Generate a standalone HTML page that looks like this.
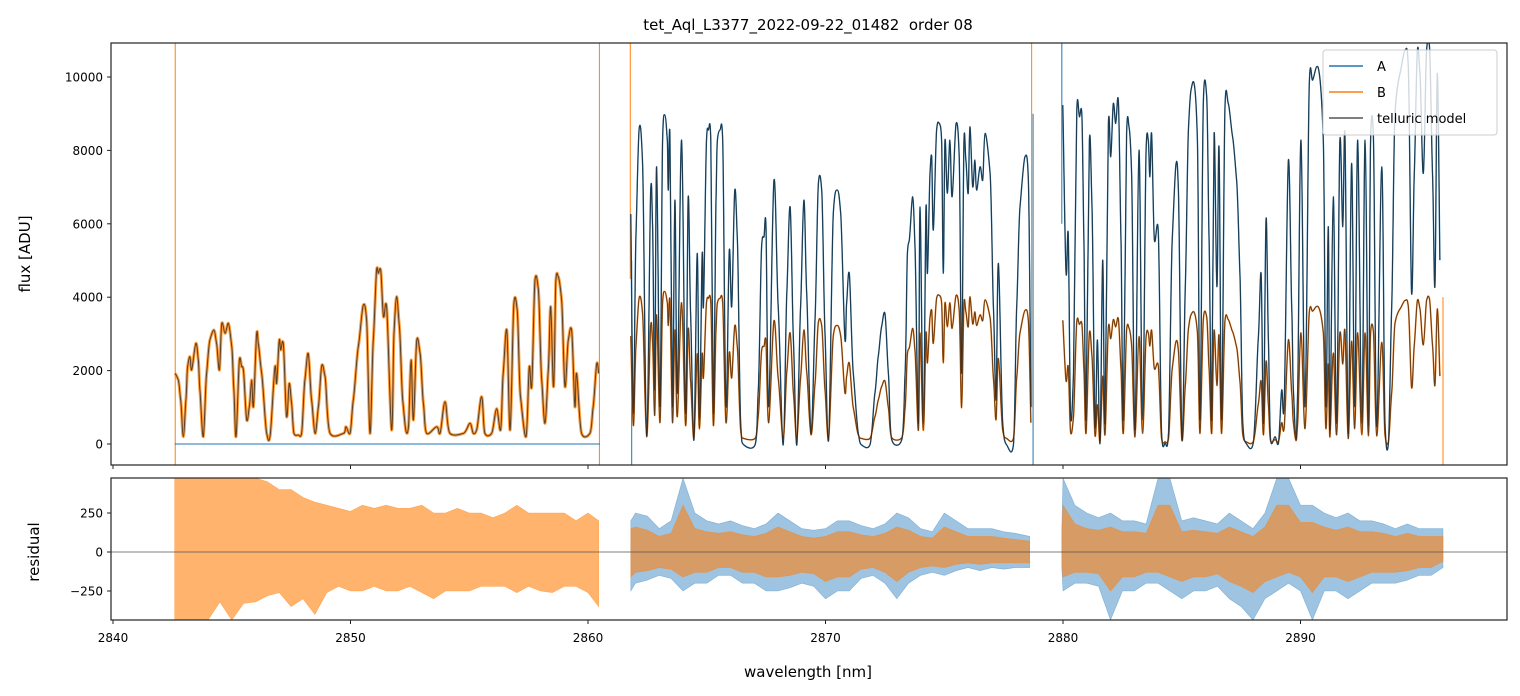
<!DOCTYPE html>
<html><head><meta charset="utf-8"><style>
html,body{margin:0;padding:0;background:#fff;}
svg{display:block;font-family:"DejaVu Sans","Liberation Sans",sans-serif;}
</style></head><body>
<svg id="chart" width="1520" height="696" viewBox="0 0 1520 696" xmlns="http://www.w3.org/2000/svg">
<defs>
<clipPath id="ctop"><rect x="111" y="43" width="1396" height="422"/></clipPath>
<clipPath id="cbot"><rect x="111" y="478" width="1396" height="142"/></clipPath>
</defs>
<rect width="1520" height="696" fill="#fff"/>
<text x="808" y="30" font-size="15" text-anchor="middle" fill="#000" style="white-space:pre">tet_Aql_L3377_2022-09-22_01482  order 08</text>
<g id="gtop" clip-path="url(#ctop)"></g>
<g id="gbot" clip-path="url(#cbot)"></g>
<g id="gaxes"></g>
<text transform="translate(30,254) rotate(-90)" font-size="15" text-anchor="middle">flux [ADU]</text>
<text transform="translate(39,552) rotate(-90)" font-size="15" text-anchor="middle">residual</text>
<text x="808" y="677" font-size="15" text-anchor="middle">wavelength [nm]</text>
<g>
<rect x="1323" y="50" width="174" height="85" rx="3" fill="#fff" fill-opacity="0.8" stroke="#ccc"/>
<line x1="1329" y1="66" x2="1363" y2="66" stroke="#1f77b4" stroke-width="1.5"/>
<text x="1377" y="71" font-size="13">A</text>
<line x1="1329" y1="92" x2="1363" y2="92" stroke="#ff7f0e" stroke-width="1.5"/>
<text x="1377" y="97" font-size="13">B</text>
<line x1="1329" y1="118" x2="1363" y2="118" stroke="#555" stroke-width="1.5"/>
<text x="1377" y="123" font-size="13">telluric model</text>
</g>
</svg>
<script>
// ---- data ----
const seg1Wl=[2842.61,2842.75,2842.85,2842.96,2843.07,2843.14,2843.24,2843.31,2843.49,2843.59,2843.66,2843.80,2843.94,2844.08,2844.25,2844.36,2844.48,2844.58,2844.72,2844.86,2845.00,2845.09,2845.18,2845.32,2845.42,2845.49,2845.63,2845.74,2845.84,2845.91,2846.05,2846.12,2846.26,2846.47,2846.61,2846.82,2846.89,2847.00,2847.06,2847.17,2847.31,2847.42,2847.52,2847.62,2847.80,2847.94,2848.08,2848.22,2848.36,2848.51,2848.65,2848.79,2848.93,2849.14,2849.70,2849.81,2849.98,2850.12,2850.33,2850.54,2850.68,2850.82,2850.96,2851.10,2851.17,2851.27,2851.39,2851.52,2851.73,2851.83,2851.94,2852.06,2852.20,2852.34,2852.44,2852.55,2852.65,2852.79,2852.93,2853.07,2853.21,2853.63,2853.77,2853.98,2854.19,2854.75,2855.03,2855.17,2855.31,2855.52,2855.66,2855.94,2856.15,2856.32,2856.43,2856.58,2856.72,2856.88,2857.02,2857.16,2857.39,2857.53,2857.63,2857.77,2857.91,2858.05,2858.19,2858.33,2858.43,2858.55,2858.65,2858.75,2858.89,2859.03,2859.17,2859.31,2859.45,2859.52,2859.73,2860.08,2860.22,2860.37,2860.45];
const seg1B=[1925,1743,1198,200,1198,2106,2379,2016,2742,2288,1471,200,1925,2833,3106,2742,2016,3287,3015,3287,2651,1471,200,2288,2106,2016,654,1017,1743,1017,3015,2742,1925,290,200,2106,1652,2833,2560,2742,745,1652,1107,290,245,290,1743,2470,1198,290,1017,2143,1834,290,290,472,290,1198,2651,3786,3378,290,2833,4740,4650,4740,3469,3741,381,3015,4014,3196,1198,336,472,2288,654,2833,2470,1107,290,472,290,1152,290,290,563,290,381,1289,290,290,963,381,1925,3106,381,3832,3650,1289,200,2106,1561,4467,4195,1743,563,2016,3741,1561,4467,4558,3923,1561,2833,3106,1017,1925,290,290,1017,2197,1925];
const seg1AWl=[2842.6,2860.5];
const seg1A=[0,0];
const seg2Wl=[2861.80,2861.91,2862.02,2862.16,2862.30,2862.47,2862.64,2862.72,2862.81,2862.89,2863.03,2863.14,2863.24,2863.34,2863.38,2863.45,2863.56,2863.66,2863.76,2863.94,2864.11,2864.22,2864.32,2864.46,2864.60,2864.69,2864.81,2864.86,2864.99,2865.07,2865.17,2865.28,2865.39,2865.45,2865.56,2865.67,2865.81,2865.95,2866.05,2866.18,2866.29,2866.43,2866.57,2867.03,2867.17,2867.31,2867.41,2867.49,2867.61,2867.83,2868.01,2868.22,2868.37,2868.51,2868.65,2868.79,2868.95,2869.09,2869.21,2869.39,2869.56,2869.70,2869.84,2869.98,2870.13,2870.33,2870.50,2870.64,2870.82,2870.89,2871.00,2871.17,2871.38,2871.52,2871.87,2872.08,2872.22,2872.36,2872.50,2872.65,2872.79,2873.21,2873.35,2873.45,2873.53,2873.67,2873.77,2873.91,2873.98,2874.12,2874.23,2874.29,2874.40,2874.47,2874.54,2874.68,2874.79,2874.89,2874.96,2875.03,2875.13,2875.24,2875.33,2875.50,2875.63,2875.73,2875.83,2875.91,2876.01,2876.08,2876.20,2876.29,2876.36,2876.51,2876.62,2876.72,2876.93,2877.07,2877.18,2877.28,2877.46,2877.63,2877.91,2878.05,2878.19,2878.40,2878.54,2878.65];
const seg2A=[6265,835,5720,8625,7626,200,6918,5920,1471,7554,1017,8280,8962,8280,6918,8462,1017,6646,1380,8280,835,6737,3560,109,5194,654,5194,3741,8280,8553,8280,835,6646,8280,8553,8280,1017,5284,3741,6918,5557,563,-27,-27,1471,5375,5647,6010,1017,7191,3741,-27,4104,6464,2833,-27,3741,6646,4104,291,3378,7101,6918,3015,109,6282,6918,6282,2833,3832,4649,1925,291,-27,-27,1380,2379,3196,3560,1925,109,109,1925,5193,5556,6736,5375,563,6464,563,6464,4649,7373,7827,5829,8553,8734,8280,4649,8280,6827,8280,6737,8734,7826,1925,8280,7736,6827,8643,7009,7736,6918,7554,7191,8462,7373,3741,1198,4921,581,-27,-27,3741,6464,7827,7236,1017];
const seg2B=[2940,500,2690,4000,3550,210,3230,2780,780,3520,580,3850,4150,3850,3230,3930,580,3110,740,3850,500,3150,1720,170,2460,410,2460,1800,3850,3970,3850,500,3110,3850,3970,3850,580,2500,1800,3230,2620,370,150,150,780,2540,2660,2820,580,3360,1800,150,1970,3030,1390,150,1800,3110,1970,250,1640,3320,3230,1480,170,2950,3230,2950,1390,1840,2210,990,250,150,150,740,1190,1560,1720,990,170,170,990,2460,2620,3150,2540,370,3030,370,3030,2210,3440,3640,2740,3970,4050,3850,2210,3850,3190,3850,3150,4050,3640,990,3850,3600,3190,4010,3270,3600,3230,3520,3360,3930,3440,1800,660,2330,380,150,150,1800,3030,3640,3380,580];
const seg3Wl=[2879.99,2880.13,2880.22,2880.32,2880.44,2880.58,2880.69,2880.79,2880.88,2880.97,2881.11,2881.22,2881.35,2881.45,2881.56,2881.67,2881.77,2881.91,2882.01,2882.12,2882.22,2882.33,2882.44,2882.54,2882.68,2882.78,2882.89,2883.03,2883.20,2883.35,2883.50,2883.59,2883.66,2883.73,2883.85,2884.01,2884.15,2884.30,2884.44,2884.60,2884.76,2884.86,2885.01,2885.15,2885.28,2885.39,2885.52,2885.66,2885.77,2885.91,2886.05,2886.15,2886.26,2886.36,2886.48,2886.57,2886.68,2886.82,2886.96,2887.14,2887.31,2887.45,2887.57,2887.71,2888.01,2888.22,2888.34,2888.44,2888.55,2888.65,2888.74,2888.93,2889.07,2889.21,2889.31,2889.49,2889.63,2889.70,2889.81,2889.88,2890.02,2890.19,2890.37,2890.51,2890.68,2890.79,2890.96,2891.07,2891.17,2891.24,2891.38,2891.52,2891.66,2891.78,2891.87,2892.01,2892.15,2892.28,2892.41,2892.58,2892.72,2892.86,2892.95,2893.07,2893.21,2893.42,2893.56,2893.70,2893.84,2893.98,2894.19,2894.40,2894.54,2894.68,2894.79,2894.92,2895.03,2895.17,2895.31,2895.43,2895.56,2895.66,2895.76,2895.87];
const seg3A=[9234,4649,5739,744,1924,9097,8916,9006,5557,654,8280,6464,472,2833,18,5012,563,8734,7827,9279,8734,9370,5557,654,8462,8643,7373,381,8008,654,8008,8280,7282,8462,5557,5829,291,18,291,5557,7645,6918,109,4286,8553,9643,9824,8280,654,9370,9460,5557,654,8462,4286,8099,654,9188,9279,8371,7191,4649,563,18,18,2833,4649,563,6146,2833,109,200,18,1471,1017,7736,3741,1471,109,1471,8280,1017,9824,9915,10278,10097,8280,1017,5920,381,6737,563,8280,5920,8462,291,7645,1017,8280,563,8280,472,8280,8371,472,7554,563,18,3741,9006,10097,10733,10279,4104,7373,10733,10097,7373,10733,10824,7373,4286,10097,5012];
const seg3B=[3370,1720,2120,320,740,3330,3260,3290,2050,290,3030,2380,220,1070,60,1850,250,3190,2870,3390,3190,3420,2050,290,3100,3160,2700,190,2930,290,2930,3030,2670,3100,2050,2150,150,60,150,2050,2800,2540,90,1590,3130,3520,3590,3030,290,3420,3460,2050,290,3100,1590,2970,290,3360,3390,3060,2640,1720,250,60,60,1070,1720,250,2260,1070,90,120,60,580,420,2840,1400,580,90,580,3030,420,3590,3620,3750,3680,3030,420,2180,190,2480,250,3030,2180,3100,150,2800,420,3030,250,3030,220,3030,3060,220,2770,250,60,1400,3290,3680,3910,3750,1530,2700,3910,3680,2700,3910,3950,2700,1590,3680,1850];
const spikeSeries=["B","B","B","A","B","A","A","B"];
const spikeWl=[2842.62,2860.48,2861.78,2861.84,2878.68,2878.74,2879.95,2896.0];
const spikeFrom=[-600,-600,4500,-600,1000,-600,6000,-600];
const spikeTo=[11000,11000,11000,5000,11000,9000,11000,4000];
const resB1Wl=[2842.6,2843,2843.5,2844,2844.5,2845,2845.5,2846,2846.5,2847,2847.5,2848,2848.5,2849,2849.5,2850,2850.5,2851,2851.5,2852,2852.5,2853,2853.5,2854,2854.5,2855,2855.5,2856,2856.5,2857,2857.5,2858,2858.5,2859,2859.5,2860,2860.45];
const resB1Hi=[474,474,474,474,474,474,474,474,450,400,400,350,320,300,280,260,300,280,300,280,280,300,250,250,280,250,250,220,250,300,250,250,250,250,200,250,200];
const resB1Lo=[-436,-436,-436,-436,-320,-436,-330,-320,-280,-260,-350,-300,-400,-260,-220,-250,-250,-220,-250,-250,-220,-260,-300,-250,-250,-250,-220,-220,-220,-260,-220,-250,-260,-220,-220,-260,-350];
const resA2Wl=[2861.8,2862,2862.5,2863,2863.5,2864,2864.5,2865,2865.5,2866,2866.5,2867,2867.5,2868,2868.5,2869,2869.5,2870,2870.5,2871,2871.5,2872,2872.5,2873,2873.5,2874,2874.5,2875,2875.5,2876,2876.5,2877,2877.5,2878,2878.6];
const resA2Hi=[200,250,230,150,200,474,250,200,180,200,170,150,180,250,200,150,140,150,200,200,170,150,180,250,220,150,130,250,200,150,150,150,130,120,100];
const resA2Lo=[-250,-200,-180,-150,-170,-250,-200,-200,-150,-150,-200,-200,-250,-250,-230,-200,-220,-300,-250,-250,-170,-150,-200,-300,-200,-150,-130,-150,-120,-100,-120,-100,-110,-100,-100];
const resB2Hi=[150,160,140,100,120,300,150,130,120,130,110,100,120,160,130,100,90,100,130,130,110,100,120,160,140,100,90,160,130,100,100,100,90,80,70];
const resB2Lo=[-160,-130,-120,-100,-110,-160,-130,-130,-100,-100,-130,-130,-160,-160,-150,-130,-140,-190,-160,-160,-110,-100,-130,-190,-130,-100,-90,-100,-80,-70,-80,-70,-70,-70,-70];
const resA3Wl=[2879.95,2880,2880.5,2881,2881.5,2882,2882.5,2883,2883.5,2884,2884.5,2885,2885.5,2886,2886.5,2887,2887.5,2888,2888.5,2889,2889.5,2890,2890.5,2891,2891.5,2892,2892.5,2893,2893.5,2894,2894.5,2895,2895.5,2896];
const resA3Hi=[150,474,300,250,220,250,200,200,180,474,474,200,220,200,180,250,200,150,250,474,474,300,300,250,220,250,200,200,180,150,180,150,150,150];
const resA3Lo=[-100,-250,-200,-200,-220,-436,-250,-250,-200,-200,-250,-300,-250,-250,-220,-300,-350,-436,-300,-250,-200,-250,-436,-250,-250,-300,-250,-200,-200,-200,-180,-150,-150,-100];
const resB3Hi=[100,300,180,150,140,160,130,130,120,300,300,130,140,130,120,160,130,100,160,300,300,190,190,160,140,160,130,130,120,100,120,100,100,100];
const resB3Lo=[-60,-160,-130,-130,-140,-250,-160,-160,-130,-130,-160,-190,-160,-160,-140,-190,-220,-260,-190,-160,-130,-160,-260,-160,-160,-190,-160,-130,-130,-130,-120,-100,-100,-60];
const xTicks=[2840,2850,2860,2870,2880,2890];
const yTicks=[0,2000,4000,6000,8000,10000];
const rTicks=[-250,0,250];

const xs=w=>113+(w-2840)*23.75;
const yt=v=>444-v*0.0367;
const yr=v=>552-v*0.156;
const NS="http://www.w3.org/2000/svg";
function mk(tag,attrs,parent){const e=document.createElementNS(NS,tag);for(const k in attrs)e.setAttribute(k,attrs[k]);parent.appendChild(e);return e;}
const gTop=document.getElementById('gtop'),gBot=document.getElementById('gbot'),gAxes=document.getElementById('gaxes');
function smoothPath(wl,vals,ys){
  const P=wl.map((w,i)=>[xs(w),ys(vals[i])]);
  let d='M'+P[0][0].toFixed(1)+','+P[0][1].toFixed(1);
  const t=0.35;
  for(let i=0;i<P.length-1;i++){
    const p0=P[Math.max(0,i-1)],p1=P[i],p2=P[i+1],p3=P[Math.min(P.length-1,i+2)];
    const c1x=p1[0]+(p2[0]-p0[0])*t/2, c1y=p1[1]+(p2[1]-p0[1])*t/2*0.6;
    const c2x=p2[0]-(p3[0]-p1[0])*t/2, c2y=p2[1]-(p3[1]-p1[1])*t/2*0.6;
    d+='C'+c1x.toFixed(1)+','+c1y.toFixed(1)+' '+c2x.toFixed(1)+','+c2y.toFixed(1)+' '+p2[0].toFixed(1)+','+p2[1].toFixed(1);
  }
  return d;
}
function drawLine(parent,wl,vals,ys,color,width,op,name){
  const p=mk('path',{d:smoothPath(wl,vals,ys),fill:'none',stroke:color,'stroke-width':width,'stroke-opacity':op,'stroke-linejoin':'round'},parent);
  
  
}
function band(parent,wl,hi,lo,color,op,name){
  let d=wl.map((w,i)=>(i?'L':'M')+xs(w).toFixed(1)+','+yr(hi[i]).toFixed(1)).join('');
  for(let i=wl.length-1;i>=0;i--)d+='L'+xs(wl[i]).toFixed(1)+','+yr(lo[i]).toFixed(1);
  const p=mk('path',{d:d+'Z',fill:color,'fill-opacity':op,stroke:color,'stroke-width':0.6,'stroke-opacity':op},parent);
  
  
}
spikeWl.forEach((w,i)=>{
  const l=mk('line',{x1:xs(w),x2:xs(w),y1:yt(spikeFrom[i]),y2:yt(spikeTo[i]),stroke:spikeSeries[i]==='A'?'#1f77b4':'#ff7f0e','stroke-width':1},gTop);
  
  
});
drawLine(gTop,seg1AWl,seg1A,yt,'#1f77b4',1,1,'series-a-seg1');
drawLine(gTop,seg2Wl,seg2A,yt,'#1f77b4',1.4,1,'series-a-seg2');
drawLine(gTop,seg3Wl,seg3A,yt,'#1f77b4',1.4,1,'series-a-seg3');
drawLine(gTop,seg1Wl,seg1B,yt,'#ff8c1a',3,0.85,'series-b-seg1');
drawLine(gTop,seg2Wl,seg2B,yt,'#ff7f0e',1.6,1,'series-b-seg2');
drawLine(gTop,seg3Wl,seg3B,yt,'#ff7f0e',1.6,1,'series-b-seg3');
drawLine(gTop,seg1Wl,seg1B,yt,'#222',1,0.75,'model-seg1-b');
drawLine(gTop,seg2Wl,seg2A,yt,'#222',1,0.75,'model-seg2-a');
drawLine(gTop,seg2Wl,seg2B,yt,'#222',1,0.7,'model-seg2-b');
drawLine(gTop,seg3Wl,seg3A,yt,'#222',1,0.75,'model-seg3-a');
drawLine(gTop,seg3Wl,seg3B,yt,'#222',1,0.7,'model-seg3-b');
band(gBot,resB1Wl,resB1Hi,resB1Lo,'#ff9a3c',0.75,'residual-b-seg1');
band(gBot,resA2Wl,resA2Hi,resA2Lo,'#3d8ac4',0.5,'residual-a-seg2');
band(gBot,resA2Wl,resB2Hi,resB2Lo,'#f08a30',0.7,'residual-b-seg2');
band(gBot,resA3Wl,resA3Hi,resA3Lo,'#3d8ac4',0.5,'residual-a-seg3');
band(gBot,resA3Wl,resB3Hi,resB3Lo,'#f08a30',0.7,'residual-b-seg3');
const zl=mk('line',{x1:111,x2:1507,y1:yr(0),y2:yr(0),stroke:'#555','stroke-width':0.8},gBot);


const f1=mk('rect',{x:111,y:43,width:1396,height:422,fill:'none',stroke:'#222','stroke-width':1.2},gAxes);


const f2=mk('rect',{x:111,y:478,width:1396,height:142,fill:'none',stroke:'#222','stroke-width':1.2},gAxes);


xTicks.forEach(t=>{
  const x=xs(t);
  const a=mk('line',{x1:x,x2:x,y1:465,y2:469,stroke:'#222','stroke-width':1},gAxes);
  
  
  const b=mk('line',{x1:x,x2:x,y1:620,y2:624,stroke:'#222','stroke-width':1},gAxes);
  
  
  const tx=mk('text',{x:x,y:642,'font-size':12,'text-anchor':'middle'},gAxes);
  tx.textContent=t;
  
  
});
yTicks.forEach(t=>{
  const y=yt(t);
  const a=mk('line',{x1:107,x2:111,y1:y,y2:y,stroke:'#222','stroke-width':1},gAxes);
  
  
  const tx=mk('text',{x:103,y:y+4.5,'font-size':12,'text-anchor':'end'},gAxes);
  tx.textContent=t;
  
  
});
rTicks.forEach(t=>{
  const y=yr(t);
  const a=mk('line',{x1:107,x2:111,y1:y,y2:y,stroke:'#222','stroke-width':1},gAxes);
  
  
  const tx=mk('text',{x:103,y:y+4.5,'font-size':12,'text-anchor':'end'},gAxes);
  tx.textContent=t<0?'\u2212'+(-t):t;
  
  
});
</script>
</body></html>
